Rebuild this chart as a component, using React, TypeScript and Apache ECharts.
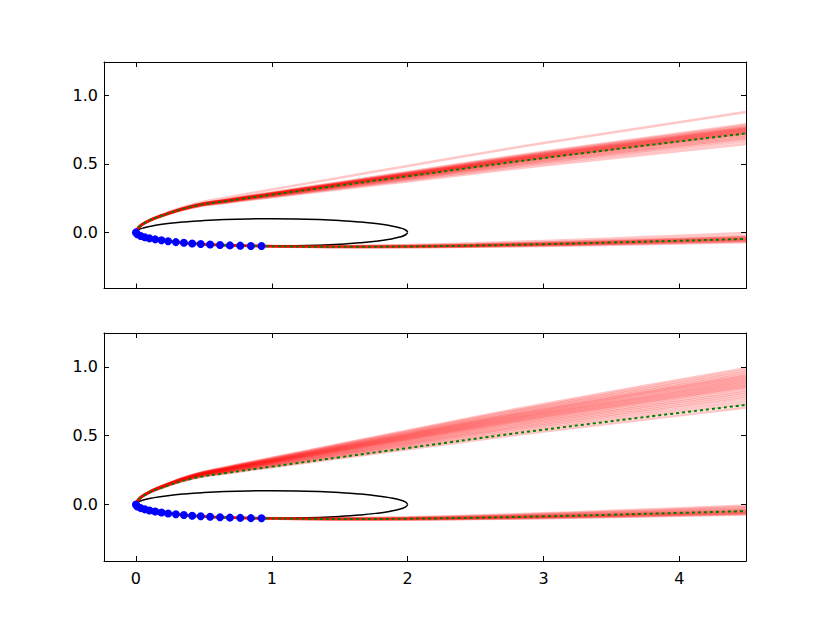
import React, { useEffect, useRef } from "react";
import * as echarts from "echarts";

// Axis ticks
const xTicks = [0, 1, 2, 3, 4];
const yTicks = [0, 0.5, 1.0];
const xMin = -0.235;
const xMax = 4.49;
const yMin = -0.41;
const yMax = 1.245;

// Black ellipse (centre (1,0), semi-axes 1 and 0.1)
const ellipseX = [2, 1.985, 1.94, 1.866, 1.766, 1.643, 1.5, 1.342, 1.174, 1, 0.826, 0.658, 0.5, 0.357, 0.234, 0.134, 0.06, 0.015, 0, 0.015, 0.06, 0.134, 0.234, 0.357, 0.5, 0.658, 0.826, 1, 1.174, 1.342, 1.5, 1.643, 1.766, 1.866, 1.94, 1.985, 2];
const ellipseY = [0, 0.0174, 0.0342, 0.05, 0.0643, 0.0766, 0.0866, 0.094, 0.0985, 0.1, 0.0985, 0.094, 0.0866, 0.0766, 0.0643, 0.05, 0.0342, 0.0174, 0, -0.0174, -0.0342, -0.05, -0.0643, -0.0766, -0.0866, -0.094, -0.0985, -0.1, -0.0985, -0.094, -0.0866, -0.0766, -0.0643, -0.05, -0.0342, -0.0174, 0];

// Blue observation points
const obsX = [0, 0.01, 0.035, 0.065, 0.1, 0.142, 0.188, 0.237, 0.294, 0.353, 0.414, 0.477, 0.546, 0.619, 0.692, 0.768, 0.846, 0.924];
const obsY = [0, -0.014, -0.026, -0.035, -0.044, -0.051, -0.058, -0.065, -0.071, -0.076, -0.081, -0.085, -0.089, -0.092, -0.095, -0.097, -0.099, -0.1];

// Green (dotted) reference trajectory, upper and lower branch
const upperX = [0, 0.02, 0.08, 0.17, 0.42, 0.66, 1.0, 1.5, 2.0, 3.0, 4.49];
const upperGreen = [0, 0.037, 0.077, 0.115, 0.19, 0.228, 0.275, 0.343, 0.41, 0.543, 0.723];
const upperSpread = [0, 0.005, 0.02, 0.04, 0.1, 0.16, 0.24, 0.36, 0.48, 0.7, 1];

const lowerX = [0, 0.02, 0.08, 0.2, 0.4, 0.6, 0.93, 1.25, 1.6, 2.0, 2.5, 3.0, 3.5, 4.0, 4.49];
const lowerGreen = [0, -0.02, -0.039, -0.06, -0.08, -0.092, -0.1, -0.104, -0.105, -0.103, -0.096, -0.086, -0.074, -0.061, -0.048];
const lowerSpread = [0, 0, 0, 0, 0.01, 0.02, 0.05, 0.09, 0.16, 0.26, 0.4, 0.55, 0.7, 0.85, 1];

// Red sampled trajectories: y value at the right edge of each panel
const topUpperEnds = [0.88, 0.79, 0.78, 0.77, 0.765, 0.76, 0.755, 0.75, 0.745, 0.74, 0.735, 0.73, 0.725, 0.72, 0.71, 0.7, 0.69, 0.68, 0.665, 0.645];
const topLowerEnds = [-0.005, -0.025, -0.032, -0.038, -0.043, -0.047, -0.051, -0.055, -0.06, -0.065, -0.072];
const bottomUpperEnds = [0.99, 0.975, 0.96, 0.945, 0.935, 0.925, 0.915, 0.905, 0.895, 0.885, 0.875, 0.865, 0.855, 0.845, 0.83, 0.815, 0.8, 0.785, 0.77, 0.75, 0.73, 0.705];
const bottomLowerEnds = [-0.008, -0.018, -0.028, -0.036, -0.042, -0.048, -0.053, -0.058, -0.063, -0.068, -0.072];

const FONT = "DejaVu Sans";

function branch(xs: number[], green: number[], spread: number[], end: number) {
  const off = end - green[green.length - 1];
  return xs.map((x, i) => [x, green[i] + off * spread[i]]);
}

function panelSeries(gi: number, upEnds: number[], lowEnds: number[]) {
  const s: any[] = [];
  const base = { xAxisIndex: gi * 2, yAxisIndex: gi * 2, silent: true, clip: true };
  s.push({
    ...base,
    type: "line",
    z: 1,
    data: ellipseX.map((x, i) => [x, ellipseY[i]]),
    smooth: true,
    showSymbol: false,
    lineStyle: { color: "#000", width: 1.5 },
  });
  const red = { color: "rgba(255,0,0,0.22)", width: 2.5 };
  upEnds.forEach((e) =>
    s.push({ ...base, type: "line", z: 2, data: branch(upperX, upperGreen, upperSpread, e), smooth: true, showSymbol: false, lineStyle: red })
  );
  lowEnds.forEach((e) =>
    s.push({ ...base, type: "line", z: 2, data: branch(lowerX, lowerGreen, lowerSpread, e), smooth: true, showSymbol: false, lineStyle: red })
  );
  const green = { color: "#008000", width: 2, type: [3, 3] };
  s.push({ ...base, type: "line", z: 3, data: upperX.map((x, i) => [x, upperGreen[i]]), smooth: true, showSymbol: false, lineStyle: green });
  s.push({ ...base, type: "line", z: 3, data: lowerX.map((x, i) => [x, lowerGreen[i]]), smooth: true, showSymbol: false, lineStyle: green });
  s.push({
    ...base,
    type: "scatter",
    z: 6,
    data: obsX.map((x, i) => [x, obsY[i]]),
    symbol: "circle",
    symbolSize: 8,
    itemStyle: { color: "#0000ff", opacity: 1, borderWidth: 0 },
  });
  return s;
}

function axesFor(gi: number, showXLabels: boolean) {
  const line = { show: true, onZero: false, lineStyle: { color: "#000", width: 1 } };
  const tick = (vals: number[]) => ({ show: true, inside: true, length: 5, lineStyle: { color: "#000", width: 1 }, customValues: vals });
  const xs = [
    {
      type: "value", gridIndex: gi, min: xMin, max: xMax, position: "bottom", z: 10,
      axisLine: line, axisTick: tick(xTicks), splitLine: { show: false },
      axisLabel: { show: showXLabels, customValues: xTicks, fontFamily: FONT, fontSize: 16, color: "#000", margin: 9 },
    },
    {
      type: "value", gridIndex: gi, min: xMin, max: xMax, position: "top", z: 10,
      axisLine: line, axisTick: tick(xTicks), splitLine: { show: false }, axisLabel: { show: false },
    },
  ];
  const ys = [
    {
      type: "value", gridIndex: gi, min: yMin, max: yMax, position: "left", z: 10,
      axisLine: line, axisTick: tick(yTicks), splitLine: { show: false },
      axisLabel: { show: true, customValues: yTicks, fontFamily: FONT, fontSize: 16, color: "#000", margin: 6, formatter: (v: number) => v.toFixed(1) },
    },
    {
      type: "value", gridIndex: gi, min: yMin, max: yMax, position: "right", z: 10,
      axisLine: line, axisTick: tick(yTicks), splitLine: { show: false }, axisLabel: { show: false },
    },
  ];
  return { xs, ys };
}

export default function App() {
  const ref = useRef<HTMLDivElement>(null);
  useEffect(() => {
    if (!ref.current) return;
    const chart = echarts.init(ref.current, null, { renderer: "svg" });
    const a0 = axesFor(0, false);
    const a1 = axesFor(1, true);
    chart.setOption({
      animation: false,
      backgroundColor: "#fff",
      grid: [
        { left: 104, top: 62, width: 642, height: 226.5 },
        { left: 104, top: 333, width: 642, height: 228 },
      ],
      xAxis: [...a0.xs, ...a1.xs],
      yAxis: [...a0.ys, ...a1.ys],
      series: [...panelSeries(0, topUpperEnds, topLowerEnds), ...panelSeries(1, bottomUpperEnds, bottomLowerEnds)],
    });
    return () => chart.dispose();
  }, []);
  return <div ref={ref} style={{ position: "absolute", left: 0, top: 0, width: 830, height: 623, background: "#fff" }} />;
}
